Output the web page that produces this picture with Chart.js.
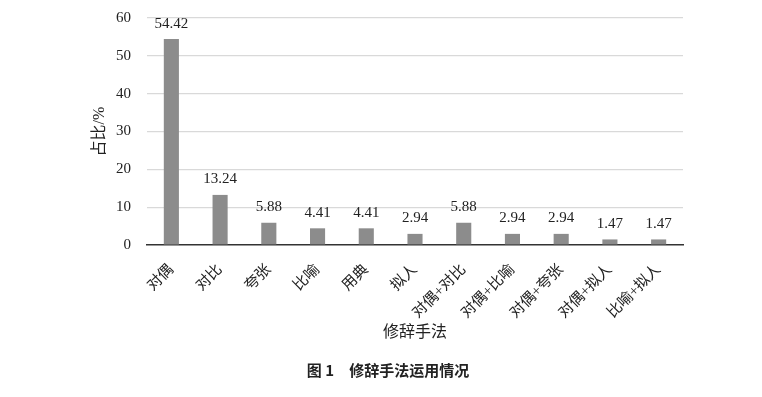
<!DOCTYPE html>
<html>
<head>
<meta charset="utf-8">
<script src="https://cdn.jsdelivr.net/npm/chart.js@4"></script>
<style>
  html, body { margin: 0; padding: 0; background: #fff; }
  #wrap { width: 762px; height: 397px; }
</style>
</head>
<body>
<div id="wrap"><canvas id="chart"></canvas></div>
<script>
const categories = ['对偶', '对比', '夸张', '比喻', '用典', '拟人', '对偶+对比', '对偶+比喻', '对偶+夸张', '对偶+拟人', '比喻+拟人'];
const shares = [54.42, 13.24, 5.88, 4.41, 4.41, 2.94, 5.88, 2.94, 2.94, 1.47, 1.47];
const yTicks = [0, 10, 20, 30, 40, 50, 60];

const serif = '"Liberation Serif", "Noto Sans CJK SC", serif';

// value labels above each bar
const valueLabels = {
  id: 'valueLabels',
  afterDatasetsDraw(chart) {
    const c = chart.ctx;
    const meta = chart.getDatasetMeta(0);
    c.save();
    c.font = '15px ' + serif;
    c.fillStyle = '#222';
    c.textAlign = 'center';
    c.textBaseline = 'bottom';
    meta.data.forEach((bar, i) => {
      c.fillText(shares[i].toFixed(2), bar.x, bar.y - 8);
    });
    c.restore();
  }
};

// figure caption under the chart
const caption = {
  id: 'caption',
  afterDraw(chart) {
    const c = chart.ctx;
    c.save();
    c.font = 'bold 15px "Noto Sans CJK SC", sans-serif';
    c.fillStyle = '#222';
    c.textAlign = 'center';
    c.textBaseline = 'middle';
    c.fillText('图 1　修辞手法运用情况', 388, 370);
    c.restore();
  }
};

new Chart(document.getElementById('chart'), {
  type: 'bar',
  data: {
    labels: categories,
    datasets: [{
      data: shares,
      backgroundColor: '#8c8c8c',
      categoryPercentage: 1,
      barPercentage: 0.31
    }]
  },
  options: {
    responsive: true,
    maintainAspectRatio: false,
    animation: false,
    layout: { padding: { left: 90, right: 79, top: 18, bottom: 53 } },
    plugins: { legend: { display: false }, tooltip: { enabled: false } },
    scales: {
      x: {
        grid: { display: false },
        border: { display: true, color: '#333', width: 1.5 },
        ticks: {
          minRotation: 45, maxRotation: 45, padding: 8,
          color: '#222', font: { size: 15, family: serif }
        },
        title: {
          display: true, text: '修辞手法', color: '#222',
          font: { size: 16, family: serif }, padding: { top: 2, bottom: 2 }
        },
        afterFit(scale) {
          scale.height = 99;
          scale.paddingLeft = 0; scale.paddingRight = 0;
        }
      },
      y: {
        min: 0, max: 60,
        afterBuildTicks(scale) { scale.ticks = yTicks.map(v => ({ value: v })); },
        grid: {
          color: ctx => ctx.tick && ctx.tick.value === 0 ? 'rgba(0,0,0,0)' : '#d9d9d9',
          lineWidth: 1.2, drawTicks: false
        },
        border: { display: false },
        ticks: { padding: 16, color: '#222', font: { size: 15, family: serif } },
        title: {
          display: true, text: '占比/%', color: '#222',
          font: { size: 16, family: serif }, padding: { top: 0, bottom: 6 }
        },
        afterFit(scale) {
          scale.width = 57;
          scale.paddingTop = 0; scale.paddingBottom = 0;
        }
      }
    }
  },
  plugins: [valueLabels, caption]
});
</script>
</body>
</html>
